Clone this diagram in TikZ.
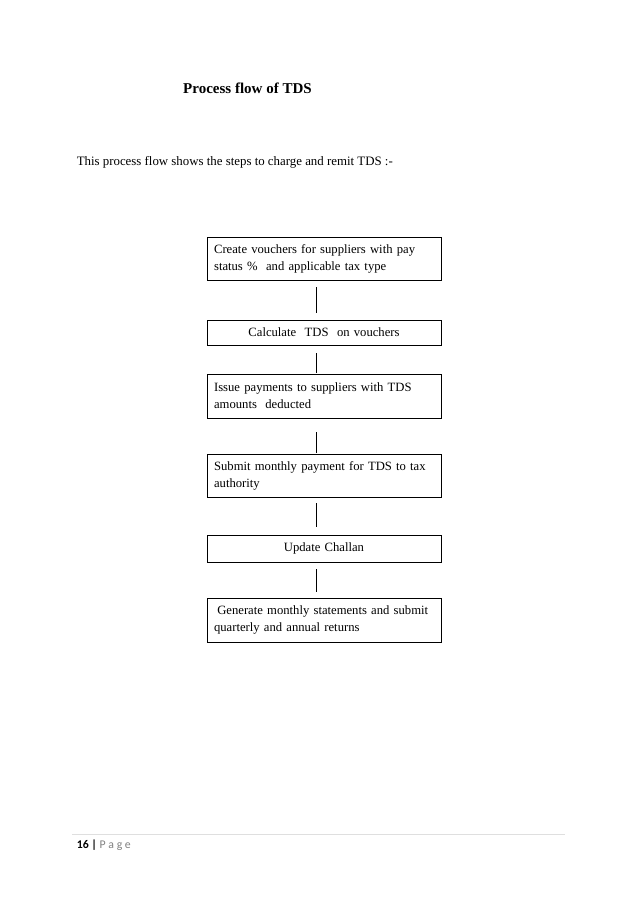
\documentclass[tikz,border=0pt]{standalone}
\usepackage{fontspec}
\setmainfont{Liberation Serif}
\newfontfamily\footfont{Carlito}
\usetikzlibrary{calc}

\begin{document}
\begin{tikzpicture}[x=0.9326pt, y=-0.9326pt, font=\fontsize{11.8}{15.9}\selectfont,
		stepbox/.style={draw, line width=0.6pt, text width=205pt, inner xsep=6.5pt, inner ysep=0pt, align=left},
		conn/.style={line width=0.6pt}]
		\def\cx{-7.5pt}
		\useasboundingbox (0,0) rectangle (638,903);
		% heading and intro line
		\node[font=\bfseries\fontsize{14}{16}\selectfont] (title) at (247.5,88) {Process flow of TDS};
		\node[anchor=west, font=\fontsize{12}{15}\selectfont] (intro) at (73,162) {This process flow shows the steps to charge and remit TDS :-};
		% the six steps
		\node[stepbox, minimum height=40.1pt] (vouch) at (324,258.5) {Create vouchers for suppliers with pay\\status \%\ \ and applicable tax type};
		\node[stepbox, minimum height=23.3pt, align=center] (calc) at (324,332.5) {Calculate\ \ TDS\ \ on vouchers};
		\node[stepbox, minimum height=41pt] (pay) at (324,396) {Issue payments to suppliers with TDS\\amounts\ \ deducted};
		\node[stepbox, minimum height=40.1pt] (remit) at (324,475.5) {Submit monthly payment for TDS to tax\\authority};
		\node[stepbox, minimum height=25.2pt, align=center] (challan) at (324,548.5) {Update Challan};
		\node[stepbox, minimum height=41pt] (returns) at (324,620) {\hspace{3pt}Generate monthly statements and submit\\quarterly and annual returns};
		% plain links, a little left of centre
		\draw[conn, shorten <=6.5pt, shorten >=6.5pt] ([xshift=\cx]vouch.south) -- ([xshift=\cx]calc.north);
		\draw[conn, shorten <=7.5pt, shorten >=0.9pt] ([xshift=\cx]calc.south) -- ([xshift=\cx]pay.north);
		\draw[conn, shorten <=13pt, shorten >=0.9pt] ([xshift=\cx]pay.south) -- ([xshift=\cx]remit.north);
		\draw[conn, shorten <=5.6pt, shorten >=7.5pt] ([xshift=\cx]remit.south) -- ([xshift=\cx]challan.north);
		\draw[conn, shorten <=6.5pt, shorten >=5.6pt] ([xshift=\cx]challan.south) -- ([xshift=\cx]returns.north);
		% page footer
		\coordinate (rulel) at (72,834);
		\coordinate (ruler) at (565,834);
		\draw[gray!25, line width=0.5pt] (rulel) -- (ruler);
		\node[anchor=west, font=\footfont\fontsize{11}{13}\selectfont] (pgno) at (73,845) {\textbf{16 |} \textcolor{gray}{P a g e}};
	\end{tikzpicture}
\end{document}
